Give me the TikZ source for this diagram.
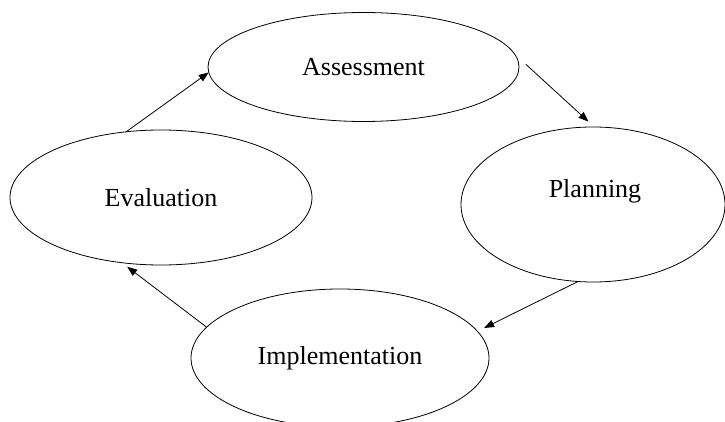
\documentclass[tikz,border=0pt]{standalone}
\usepackage{fontspec}
\setmainfont{Liberation Serif}
\usetikzlibrary{shapes.geometric,arrows.meta}

\tikzset{
  stage/.style={ellipse, draw=black, line width=0.8pt, inner sep=0pt, outer sep=0pt,
                font=\fontsize{26}{31}\selectfont},
  caption/.style={inner sep=0pt, font=\fontsize{26}{31}\selectfont},
  flow/.style={draw=black, line width=0.8pt, -{Triangle[length=10pt,width=7.5pt]}}
}

\begin{document}
\begin{tikzpicture}[x=1pt,y=-1pt]
  \useasboundingbox (0,0) rectangle (725,422);
  \clip (0,0) rectangle (725,422);

  % the four stages of the cycle
  \node[stage, minimum width=311pt, minimum height=109pt] (assess) at (363.5,67) {Assessment};
  \node[stage, minimum width=264pt, minimum height=155pt] (plan)   at (593,204.5) {};
  \node[caption] (plan-t) at (595,191) {Planning};
  \node[stage, minimum width=298pt, minimum height=138pt] (impl)   at (340,358) {Implementation};
  \node[stage, minimum width=302pt, minimum height=135pt] (eval)   at (161,197.5) {Evaluation};

  % arrows going round the cycle
  \draw[flow] (eval.118) -- (assess.182);
  \draw[flow, shorten <=15.6pt, shorten >=8pt] (assess.5.7) -- (plan.89);
  \draw[flow, shorten >=7.5pt] (plan.259) -- (impl.11.5);
  \draw[flow, shorten >=6.7pt] (impl.167.9) -- (eval.239.7);
\end{tikzpicture}
\end{document}
